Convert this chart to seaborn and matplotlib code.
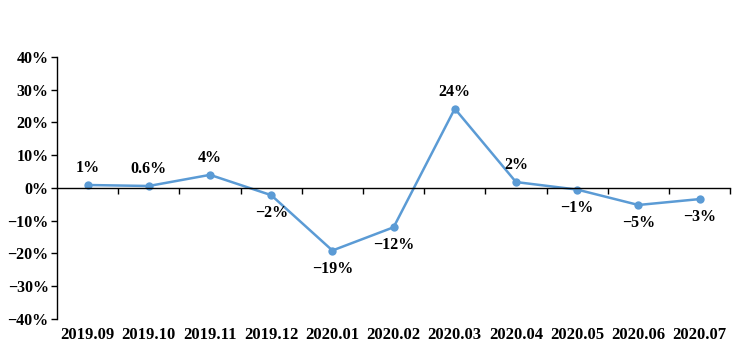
import matplotlib
matplotlib.use("Agg")
import matplotlib.pyplot as plt
import seaborn as sns
import pandas as pd

# month-over-month change
months = ['2019.09', '2019.10', '2019.11', '2019.12', '2020.01', '2020.02',
          '2020.03', '2020.04', '2020.05', '2020.06', '2020.07']
values = [0.9, 0.6, 4.0, -2.2, -19.1, -12.0, 24.2, 1.8, -0.5, -5.2, -3.4]
point_labels = ['1%', '0.6%', '4%', '−2%', '−19%', '−12%', '24%', '2%', '−1%', '−5%', '−3%']
y_ticks = [-40, -30, -20, -10, 0, 10, 20, 30, 40]

sns.set_style('white')
plt.rcParams['font.family'] = ['Liberation Serif', 'DejaVu Serif']
plt.rcParams['text.color'] = 'black'
plt.rcParams['xtick.color'] = 'black'
plt.rcParams['ytick.color'] = 'black'
plt.rcParams['font.weight'] = 'bold'

df = pd.DataFrame({'month': months, 'value': values})
blue = '#5B9BD5'

fig = plt.figure(figsize=(7.48, 3.58), dpi=100)
ax = fig.add_axes([0.0762, 0.109, 0.9, 0.732])

sns.lineplot(data=df, x='month', y='value', ax=ax, color=blue, linewidth=1.8,
             marker='o', markersize=6, markeredgewidth=0, sort=False)

ax.set_xlim(-0.5, len(months) - 0.5)
ax.set_ylim(-40, 40)
ax.set_yticks(y_ticks)
ax.set_yticklabels([f'{v}%'.replace('-', '−') for v in y_ticks], fontsize=11.5)
ax.set_xlabel('')
ax.set_ylabel('')

# category axis drawn along the zero line, ticks on category boundaries
for side in ['top', 'right']:
    ax.spines[side].set_visible(False)
ax.spines['bottom'].set_position(('data', 0))
ax.spines['bottom'].set_color('black')
ax.spines['left'].set_color('black')
ax.spines['bottom'].set_linewidth(1)
ax.spines['left'].set_linewidth(1)
ax.set_xticks([i + 0.5 for i in range(len(months))])
ax.set_xticklabels([])
ax.tick_params(axis='x', direction='out', length=4, width=1, color='black', bottom=True)
ax.tick_params(axis='y', direction='out', length=4, width=1, color='black', left=True, pad=2)

# month labels along the bottom of the plot
sec = ax.secondary_xaxis('bottom')
sec.set_xticks(range(len(months)))
sec.set_xticklabels(months, fontsize=12)
sec.tick_params(length=0, pad=6)
sec.spines['bottom'].set_visible(False)

# data labels
for i, (v, lab) in enumerate(zip(values, point_labels)):
    off = 12 if v >= 0 else -13
    ax.annotate(lab, (i, v), xytext=(0, off), textcoords='offset points',
                ha='center', va='center', fontsize=11.5)

fig.savefig('out.png', dpi=100)
